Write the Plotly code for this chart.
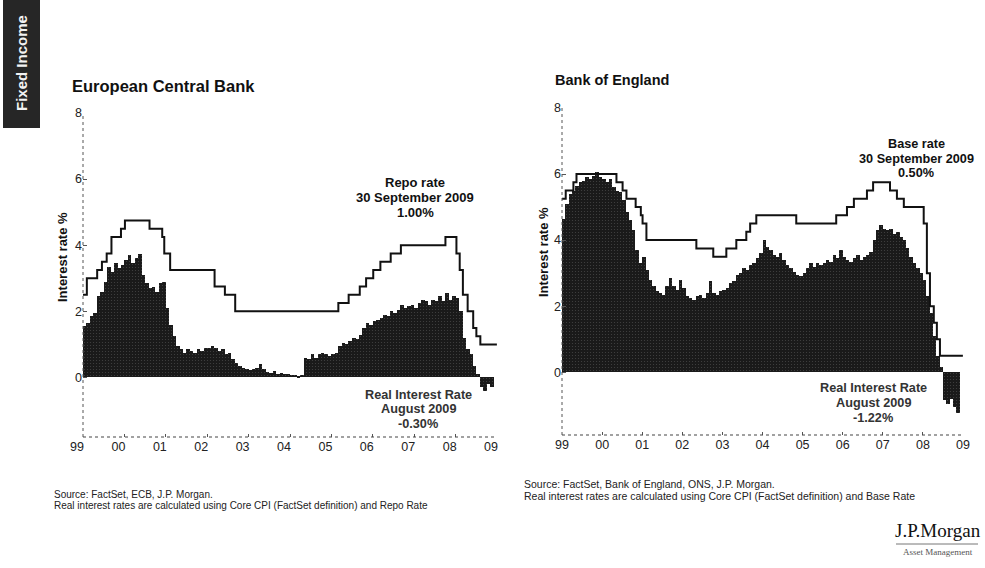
import pandas as pd
import plotly.graph_objects as go
from plotly.subplots import make_subplots

W, H = 985, 568

# ---- data -------------------------------------------------------------
# Real interest rates, monthly from Oct 1999 to Aug 2009 (%)
ecb_real = [
    1.55, 1.65, 1.85, 1.95, 2.45, 2.6, 2.9, 3.35, 3.2, 3.45,
    3.3, 3.4, 3.55, 3.7, 3.45, 3.6, 3.75, 3.1, 2.85, 2.7,
    2.75, 2.6, 2.85, 2.9, 2.1, 1.6, 1.25, 0.95, 0.85, 0.75,
    0.85, 0.8, 0.75, 0.85, 0.8, 0.9, 0.9, 0.95, 0.9, 0.8,
    0.85, 0.7, 0.75, 0.55, 0.45, 0.35, 0.3, 0.25, 0.22, 0.25,
    0.3, 0.4, 0.25, 0.18, 0.15, 0.2, 0.12, 0.15, 0.1, 0.1,
    0.08, 0.07, 0.06, 0.08, 0.6, 0.55, 0.7, 0.6, 0.7, 0.75,
    0.7, 0.65, 0.7, 0.75, 0.95, 1.05, 1.0, 1.1, 1.2, 1.15,
    1.3, 1.5, 1.65, 1.6, 1.7, 1.75, 1.8, 1.9, 1.85, 2.0,
    1.95, 2.05, 2.2, 2.1, 2.15, 2.2, 2.1, 2.25, 2.35, 2.3,
    2.2, 2.35, 2.3, 2.45, 2.3, 2.55, 2.35, 2.45, 2.4, 2.0,
    1.2, 0.85, 0.7, 0.35, 0.1, -0.3, -0.4, -0.2, -0.3,
]
boe_real = [
    4.65, 5.1, 5.4, 5.5, 5.65, 5.75, 5.8, 5.9, 5.85, 5.95,
    6.05, 5.9, 5.85, 5.75, 5.85, 5.6, 5.5, 5.45, 5.2, 4.85,
    4.6, 4.3, 3.7, 3.3, 3.5, 3.1, 2.8, 2.6, 2.45, 2.4,
    2.35, 2.6, 2.85, 2.6, 2.5, 2.8, 2.55, 2.3, 2.25, 2.2,
    2.3, 2.35, 2.25, 2.4, 2.75, 2.4, 2.35, 2.45, 2.5, 2.55,
    2.7, 2.75, 2.95, 3.0, 3.15, 3.1, 3.25, 3.3, 3.45, 3.6,
    4.0, 3.8, 3.7, 3.55, 3.5, 3.6, 3.4, 3.25, 3.15, 3.05,
    2.95, 2.9, 3.0, 3.15, 3.3, 3.2, 3.3, 3.25, 3.3, 3.4,
    3.35, 3.55, 3.45, 3.7, 3.5, 3.4, 3.35, 3.45, 3.55, 3.4,
    3.5, 3.55, 3.65, 4.0, 4.3, 4.45, 4.35, 4.3, 4.35, 4.2,
    4.25, 4.1, 4.0, 3.75, 3.5, 3.3, 3.15, 3.0, 2.8, 2.3,
    1.8, 1.1, 0.5, 0.15, -0.85, -0.95, -0.8, -1.05, -1.22,
]
real_months = pd.date_range("1999-10-01", periods=len(ecb_real), freq="MS")

# Policy rate changes (effective date, rate %)
ecb_repo_dates = [
    "1999-10-01", "1999-11-04", "2000-02-03", "2000-03-16", "2000-04-27",
    "2000-06-08", "2000-08-31", "2000-10-05", "2001-05-10", "2001-08-30",
    "2001-09-17", "2001-11-08", "2002-12-05", "2003-03-06", "2003-06-05",
    "2005-12-01", "2006-03-02", "2006-06-08", "2006-08-03", "2006-10-05",
    "2006-12-07", "2007-03-08", "2007-06-06", "2008-07-03", "2008-10-08",
    "2008-11-06", "2008-12-04", "2009-01-15", "2009-03-05", "2009-04-02",
    "2009-05-07", "2009-09-30",
]
ecb_repo = [
    2.5, 3.0, 3.25, 3.5, 3.75, 4.25, 4.5, 4.75, 4.5, 4.25,
    3.75, 3.25, 2.75, 2.5, 2.0, 2.25, 2.5, 2.75, 3.0, 3.25,
    3.5, 3.75, 4.0, 4.25, 3.75, 3.25, 2.5, 2.0, 1.5, 1.25,
    1.0, 1.0,
]
boe_base_dates = [
    "1999-10-01", "1999-11-04", "2000-01-13", "2000-02-10", "2001-02-08",
    "2001-04-05", "2001-05-10", "2001-08-02", "2001-09-18", "2001-10-04",
    "2001-11-08", "2003-02-06", "2003-07-10", "2003-11-06", "2004-02-05",
    "2004-05-06", "2004-06-10", "2004-08-05", "2005-08-04", "2006-08-03",
    "2006-11-09", "2007-01-11", "2007-05-10", "2007-07-05", "2007-12-06",
    "2008-02-07", "2008-04-10", "2008-10-08", "2008-11-06", "2008-12-04",
    "2009-01-08", "2009-02-05", "2009-03-05", "2009-09-30",
]
boe_base = [
    5.25, 5.5, 5.75, 6.0, 5.75, 5.5, 5.25, 5.0, 4.75, 4.5,
    4.0, 3.75, 3.5, 3.75, 4.0, 4.25, 4.5, 4.75, 4.5, 4.75,
    5.0, 5.25, 5.5, 5.75, 5.5, 5.25, 5.0, 4.5, 3.0, 2.0,
    1.5, 1.0, 0.5, 0.5,
]

year_ticks = pd.date_range("1999-10-01", periods=11, freq="12MS")
year_labels = ["99", "00", "01", "02", "03", "04", "05", "06", "07", "08", "09"]
y_ticks = [0, 2, 4, 6, 8]

# ---- figure -----------------------------------------------------------
SANS = "Liberation Sans, Arial, sans-serif"
SERIF = "Liberation Serif, Times New Roman, serif"


def px(x):
    return x / W


def py(y):
    return 1 - y / H


fig = make_subplots(rows=1, cols=2)

MONTH_MS = 31 * 24 * 3600 * 1000
bar_style = dict(
    width=MONTH_MS,
    marker=dict(
        color="#1a1a1a",
        line=dict(width=0),
        pattern=dict(shape=".", fgcolor="#6a6a6a", bgcolor="#1a1a1a",
                     size=3, solidity=0.12),
    ),
    hoverinfo="skip",
)
bar_x = real_months + pd.Timedelta(days=15)
fig.add_trace(go.Bar(x=bar_x, y=ecb_real, **bar_style), row=1, col=1)
fig.add_trace(go.Bar(x=bar_x, y=boe_real, **bar_style), row=1, col=2)

line_style = dict(mode="lines", line=dict(color="#111111", width=2, shape="hv"))
fig.add_trace(go.Scatter(x=pd.to_datetime(ecb_repo_dates), y=ecb_repo, **line_style),
              row=1, col=1)
fig.add_trace(go.Scatter(x=pd.to_datetime(boe_base_dates), y=boe_base, **line_style),
              row=1, col=2)

axis_font = dict(family=SANS, size=12.5, color="#222222")
common_x = dict(
    type="date", range=["1999-10-01", "2009-10-01"],
    tickmode="array", tickvals=year_ticks, ticktext=year_labels,
    ticks="inside", ticklen=3, tickcolor="#555555",
    showline=False, showgrid=False, zeroline=False,
    tickfont=axis_font, automargin=False,
)
common_y = dict(
    tickmode="array", tickvals=y_ticks,
    ticks="inside", ticklen=4, tickcolor="#555555",
    showline=False, showgrid=False, zeroline=False,
    tickfont=axis_font, automargin=False,
)

fig.update_xaxes(**common_x)
fig.update_yaxes(**common_y)
fig.update_layout(
    xaxis=dict(domain=[px(83), px(497)], ticklabelshift=-6),
    xaxis2=dict(domain=[px(562), px(963)]),
    yaxis=dict(domain=[py(437), py(113)], range=[-1.8, 8], ticklabelshift=0),
    yaxis2=dict(domain=[py(435), py(108)], range=[-1.9, 8]),
)

anns = []


def label(text, x, y, size=12, bold=False, color="#111111", anchor="center",
          family=SANS, angle=0):
    anns.append(dict(
        text=f"<b>{text}</b>" if bold else text,
        x=px(x), y=py(y), xref="paper", yref="paper",
        xanchor=anchor, yanchor="middle", showarrow=False, textangle=angle,
        font=dict(family=family, size=size, color=color),
    ))


# panel titles
label("European Central Bank", 70, 86, size=16.5, bold=True, anchor="left")
label("Bank of England", 553, 80, size=14.5, bold=True, anchor="left")

# axis titles
label("Interest rate %", 62, 257, size=13, bold=True, angle=-90)
label("Interest rate %", 543, 252, size=13, bold=True, angle=-90)

# policy-rate callouts
for i, t in enumerate(["Repo rate", "30 September 2009", "1.00%"]):
    label(t, 415, 183 + 14.8 * i, size=13, bold=True)
for i, t in enumerate(["Base rate", "30 September 2009", "0.50%"]):
    label(t, 916, 144 + 14.5 * i, size=12.7, bold=True)

# real-rate callouts
for i, t in enumerate(["Real Interest Rate", "August 2009", "-0.30%"]):
    label(t, 418, 395 + 14.3 * i, size=12.7, bold=True, color="#333333")
for i, t in enumerate(["Real Interest Rate", "August 2009", "-1.22%"]):
    label(t, 873, 388 + 15 * i, size=12.7, bold=True, color="#333333")

# sources
label("Source: FactSet, ECB, J.P. Morgan.", 52, 494, size=10, anchor="left",
      color="#222222")
label("Real interest rates are calculated using Core CPI (FactSet definition) and Repo Rate",
      52, 505, size=10, anchor="left", color="#222222")
label("Source: FactSet, Bank of England, ONS, J.P. Morgan.", 522, 484, size=10.5,
      anchor="left", color="#222222")
label("Real interest rates are calculated using Core CPI (FactSet definition) and Base Rate",
      522, 496, size=10.5, anchor="left", color="#222222")

# section tab
label("Fixed Income", 21, 63, size=15, bold=True, color="#f2f2f2", angle=-90)

# logo
label("J.P.Morgan", 938, 530, size=19, color="#111111", family=SERIF)
label("Asset Management", 938, 552, size=9, color="#555555", family=SERIF)

shapes = [
    dict(type="rect", xref="paper", yref="paper",
         x0=px(3), x1=px(40), y0=py(128), y1=py(0),
         fillcolor="#262626", line=dict(width=0), layer="below"),
    dict(type="line", xref="paper", yref="paper",
         x0=px(896), x1=px(978), y0=py(544), y1=py(544),
         line=dict(color="#777777", width=1)),
]
# dotted axis frames (left and bottom) for both panels
for xr, yr in (("x", "y"), ("x2", "y2")):
    shapes.append(dict(type="line", xref=f"{xr} domain", yref=f"{yr} domain",
                       x0=0, x1=0, y0=0, y1=1,
                       line=dict(color="#555555", width=1, dash="dot")))
    shapes.append(dict(type="line", xref=f"{xr} domain", yref=f"{yr} domain",
                       x0=0, x1=1, y0=0, y1=0,
                       line=dict(color="#444444", width=1.2, dash="dot")))

fig.update_layout(
    width=W, height=H, autosize=False,
    margin=dict(l=0, r=0, t=0, b=0),
    paper_bgcolor="white", plot_bgcolor="white",
    showlegend=False, bargap=0,
    annotations=anns, shapes=shapes,
)

fig.write_html("out.html")
